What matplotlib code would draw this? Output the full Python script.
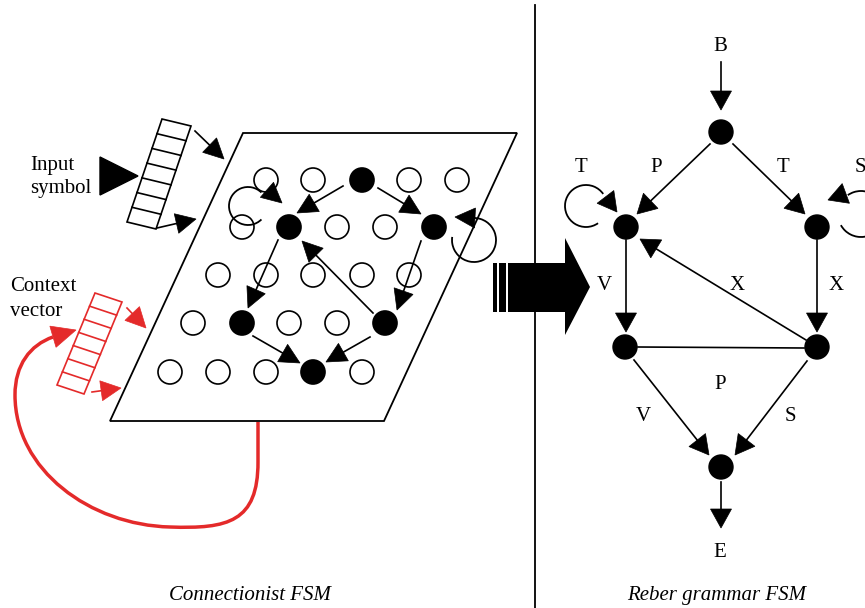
import numpy as np
import matplotlib.pyplot as plt
from matplotlib.patches import Circle, Polygon, Arc, PathPatch, Rectangle
from matplotlib.path import Path

plt.rcParams['font.family'] = ['Liberation Serif', 'DejaVu Serif']

# ---- connectionist grid (pixel coords, y down) ----
grid_rows = [
    [(266, 180, 0), (313, 180, 0), (362, 180, 1), (409, 180, 0), (457, 180, 0)],
    [(242, 227, 0), (289, 227, 1), (337, 227, 0), (385, 227, 0), (434, 227, 1)],
    [(218, 275, 0), (266, 275, 0), (313, 275, 0), (362, 275, 0), (409, 275, 0)],
    [(193, 323, 0), (242, 323, 1), (289, 323, 0), (337, 323, 0), (385, 323, 1)],
    [(170, 372, 0), (218, 372, 0), (266, 372, 0), (313, 372, 1), (362, 372, 0)],
]
grid_edges = [((343, 186), (297, 213)), ((378, 188), (421, 214)),
              ((278, 240), (248, 308)), ((421, 241), (397, 310)),
              ((373, 313), (302, 241)), ((253, 336), (300, 363)),
              ((370, 337), (326, 362))]
plane = [(243, 133), (517, 133), (384, 421), (110, 421)]

# ---- Reber grammar FSM ----
reber_nodes = [(721, 132), (626, 227), (817, 227), (625, 347), (817, 347), (721, 467)]
reber_edges = [((721, 62), (721, 110)), ((710, 144), (637, 214)),
               ((733, 144), (805, 214)), ((626, 240), (626, 332)),
               ((817, 240), (817, 332)), ((806, 340), (640, 239)),
               ((634, 360), (709, 455)), ((807, 361), (735, 455)),
               ((721, 482), (721, 528))]
reber_labels = ['B', 'P', 'T', 'T', 'S', 'V', 'X', 'X', 'P', 'V', 'S', 'E']
label_pos = [(720, 44), (656, 165), (581, 165), (783, 165), (860, 165),
             (604, 283), (737, 283), (836, 283), (720, 382), (643, 414),
             (790, 414), (720, 550)]

fig = plt.figure(figsize=(8.65, 6.08), dpi=100)
ax = fig.add_axes([0, 0, 1, 1])
ax.set_xlim(0, 865)
ax.set_ylim(608, 0)
ax.axis('off')

RED = '#e42a2a'


def head(tip, frm, L=20, W=20, color='k'):
    tip = np.array(tip, float)
    d = tip - np.array(frm, float)
    d /= np.hypot(*d)
    n = np.array([-d[1], d[0]])
    base = tip - L * d
    ax.add_patch(Polygon([tip, base + n * W / 2, base - n * W / 2],
                         closed=True, fc=color, ec=color, lw=0.5, zorder=4))


def arrow(p0, p1, L=20, W=20, color='k', lw=1.2):
    p0 = np.array(p0, float)
    p1 = np.array(p1, float)
    d = (p1 - p0) / np.hypot(*(p1 - p0))
    base = p1 - L * d
    ax.plot([p0[0], base[0]], [p0[1], base[1]], color=color, lw=lw, zorder=3)
    head(p1, p0, L, W, color)


def loop(center, r, a1, a2):
    # a1..a2 are angles on screen (counter-clockwise, y up); axis is inverted
    ax.add_patch(Arc(center, 2 * r, 2 * r, theta1=-a2, theta2=-a1,
                     color='k', lw=1.3, zorder=3))


def vector_box(tl, tr, bl, ncell, color):
    tl, tr, bl = np.array(tl, float), np.array(tr, float), np.array(bl, float)
    br = tr + bl - tl
    ax.add_patch(Polygon([tl, tr, br, bl], closed=True, fill=False, ec=color, lw=1.2))
    for k in range(1, ncell):
        f = k / ncell
        a = tl + f * (bl - tl)
        b = tr + f * (br - tr)
        ax.plot([a[0], b[0]], [a[1], b[1]], color=color, lw=1.2)


# divider
ax.plot([535, 535], [5, 608], color='k', lw=1.3)

# plane
ax.add_patch(Polygon(plane, closed=True, fill=False, ec='k', lw=1.3))
for row in grid_rows:
    for x, y, f in row:
        ax.add_patch(Circle((x, y), 12, fc='k' if f else 'white', ec='k', lw=1.2, zorder=2))
for p0, p1 in grid_edges:
    arrow(p0, p1)

# self loops in the plane
loop((248, 206), 19, 45, 315)
head((282, 203), (266, 189))
loop((474, 240), 22, 172, 450)
head((455, 217), (475, 218))

# input vector
vector_box((162, 119), (191, 126), (127, 222), 7, 'k')
ax.add_patch(Polygon([(100, 157), (138, 176), (100, 195)], closed=True, fc='k', ec='k'))
arrow((195, 131), (224, 159))
arrow((157, 228), (196, 219))
ax.text(30, 170, 'Input', fontsize=15, va='baseline')
ax.text(30, 193, 'symbol', fontsize=15, va='baseline')

# context vector (red)
vector_box((95, 293), (122, 302), (57, 385), 7, RED)
arrow((127, 308), (146, 328), color=RED)
arrow((92, 392), (121, 388), color=RED)
ax.text(10, 291, 'Context', fontsize=15, va='baseline')
ax.text(10, 316, 'vector', fontsize=15, va='baseline')

feedback = Path([(258, 422), (258, 462),
                 (258, 522), (228, 529), (170, 527),
                 (90, 525), (15, 470), (15, 395),
                 (15, 365), (30, 345), (53, 337)],
                [Path.MOVETO, Path.LINETO,
                 Path.CURVE4, Path.CURVE4, Path.CURVE4,
                 Path.CURVE4, Path.CURVE4, Path.CURVE4,
                 Path.CURVE4, Path.CURVE4, Path.CURVE4])
ax.add_patch(PathPatch(feedback, fill=False, ec=RED, lw=2.5))
head((76, 330), (52, 337), L=24, W=22, color=RED)

# big arrow
ax.add_patch(Rectangle((493, 263), 4, 49, fc='k', ec='none', zorder=5))
ax.add_patch(Rectangle((499, 263), 7, 49, fc='k', ec='none', zorder=5))
ax.add_patch(Polygon([(508, 263), (565, 263), (565, 238), (590, 287),
                      (565, 335), (565, 312), (508, 312)],
                     closed=True, fc='k', ec='none', zorder=5))

# Reber graph
for x, y in reber_nodes:
    ax.add_patch(Circle((x, y), 12, fc='k', ec='k', zorder=4))
for p0, p1 in reber_edges:
    arrow(p0, p1, L=19, W=21)
ax.plot([638, 804], [347, 348], color='k', lw=1.2)
loop((586, 206), 21, 35, 305)
head((617, 212), (604, 195), L=19, W=21)
loop((861, 214), 23, -151, 125)
head((828, 200), (847, 193), L=19, W=21)
for s, (x, y) in zip(reber_labels, label_pos):
    ax.text(x, y + 7, s, fontsize=15, ha='center', va='baseline')

ax.text(250, 600, 'Connectionist FSM', fontsize=15, style='italic', ha='center', va='baseline')
ax.text(717, 600, 'Reber grammar FSM', fontsize=15, style='italic', ha='center', va='baseline')

fig.savefig('out.png', dpi=100)
